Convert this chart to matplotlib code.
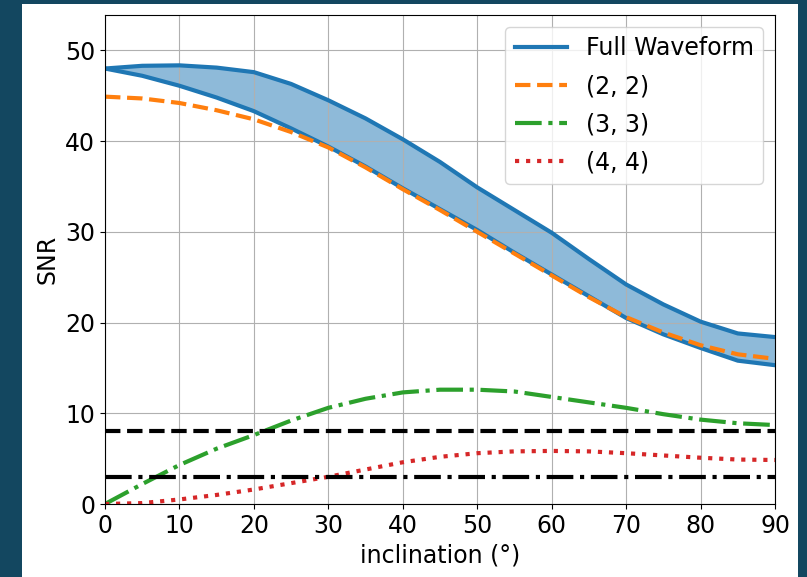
import numpy as np
import matplotlib
matplotlib.use('Agg')
import matplotlib.pyplot as plt
from matplotlib.patches import Rectangle

# inclination grid in degrees
inclination = [0, 5, 10, 15, 20, 25, 30, 35, 40, 45, 50, 55, 60, 65, 70, 75, 80, 85, 90]

# full waveform SNR band (upper / lower envelope)
snr_full_hi = [48.0, 48.3, 48.35, 48.1, 47.6, 46.3, 44.5, 42.5, 40.2, 37.7, 34.9,
               32.4, 29.9, 27.0, 24.2, 22.0, 20.1, 18.8, 18.4]
snr_full_lo = [48.0, 47.2, 46.1, 44.8, 43.3, 41.4, 39.4, 37.2, 34.8, 32.5, 30.2,
               27.7, 25.3, 22.9, 20.5, 18.7, 17.2, 15.8, 15.3]

# individual modes
snr_22 = [44.9, 44.7, 44.2, 43.4, 42.4, 41.0, 39.3, 37.1, 34.7, 32.4, 30.0,
          27.6, 25.2, 22.8, 20.6, 18.9, 17.5, 16.5, 16.0]
snr_33 = [0.0, 2.2, 4.3, 6.1, 7.6, 9.2, 10.6, 11.6, 12.3, 12.6, 12.6,
          12.4, 11.8, 11.2, 10.6, 9.9, 9.3, 8.9, 8.7]
snr_44 = [0.0, 0.1, 0.5, 1.0, 1.6, 2.3, 3.0, 3.8, 4.6, 5.2, 5.6,
          5.8, 5.85, 5.8, 5.6, 5.35, 5.1, 4.9, 4.85]

# detection thresholds
thresh_hi = 8
thresh_lo = 3

plt.rcParams['font.size'] = 17

fig = plt.figure(figsize=(8.07, 5.77), dpi=100, facecolor='#134760')
fig.patches.append(Rectangle((22 / 807, 0), 776 / 807, 573 / 577,
                             transform=fig.transFigure, facecolor='white',
                             edgecolor='none', zorder=-10))
ax = fig.add_axes([105 / 807, 1 - 504 / 577, 670 / 807, 489 / 577])

ax.fill_between(inclination, snr_full_lo, snr_full_hi, color='C0', alpha=0.5, lw=0)
ax.plot(inclination, snr_full_hi, color='C0', lw=3, label='Full Waveform')
ax.plot(inclination, snr_full_lo, color='C0', lw=3)
ax.plot(inclination, snr_22, '--', color='C1', lw=3, label='(2, 2)')
ax.plot(inclination, snr_33, '-.', color='C2', lw=3, label='(3, 3)')
ax.plot(inclination, snr_44, ':', color='C3', lw=3, label='(4, 4)')
ax.axhline(thresh_hi, color='k', ls='--', lw=3)
ax.axhline(thresh_lo, color='k', ls='-.', lw=3)

ax.set_xlim(0, 90)
ax.set_ylim(0, 53.9)
ax.set_xticks(np.arange(0, 91, 10))
ax.set_yticks(np.arange(0, 51, 10))
ax.grid(True)
ax.set_xlabel('inclination (°)')
ax.set_ylabel('SNR')
ax.legend(loc='upper right', labelspacing=0.6, handlelength=2.2)

fig.savefig('out.png', dpi=100, facecolor=fig.get_facecolor())
